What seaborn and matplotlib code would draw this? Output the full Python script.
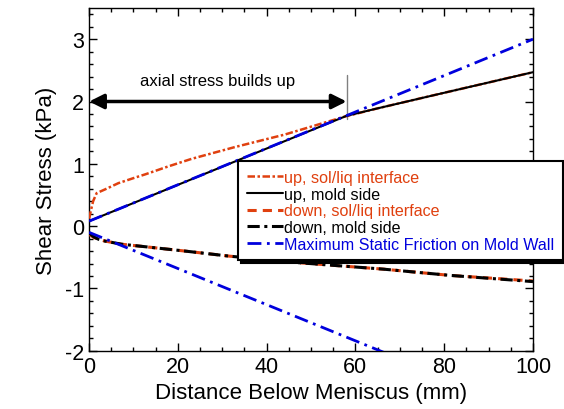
import matplotlib
matplotlib.use("Agg")
import matplotlib.pyplot as plt
import seaborn as sns
import numpy as np
from matplotlib.ticker import MultipleLocator

sns.set_theme(style="ticks")
plt.rcParams['font.family'] = ['Liberation Sans', 'DejaVu Sans']
plt.rcParams['axes.unicode_minus'] = False
plt.rcParams['text.color'] = 'black'
plt.rcParams['axes.labelcolor'] = 'black'
plt.rcParams['xtick.color'] = 'black'
plt.rcParams['ytick.color'] = 'black'

# ---- data ----
up_sol_x = [0, 0.4, 0.9, 1.7, 3.6, 6.6, 10.4, 12.6, 17.9, 23.1, 32.9, 44.1, 51.6, 57.7, 65, 80, 100]
up_sol_y = [0.12, 0.25, 0.40, 0.53, 0.59, 0.69, 0.78, 0.83, 0.96, 1.08, 1.27, 1.47, 1.63, 1.76, 1.89, 2.14, 2.47]

up_mold_x = [0, 58, 65, 80, 100]
up_mold_y = [0.08, 1.77, 1.89, 2.14, 2.47]

down_sol_x = [0, 1, 2.1, 3.6, 7.3, 12.6, 21.6, 31.4, 46, 66.3, 81.3, 100]
down_sol_y = [-0.13, -0.18, -0.21, -0.24, -0.29, -0.33, -0.40, -0.48, -0.58, -0.69, -0.79, -0.88]

down_mold_x = [0, 1, 2.1, 3.6, 7.3, 12.6, 21.6, 31.4, 46, 66.3, 81.3, 100]
down_mold_y = [-0.11, -0.17, -0.21, -0.24, -0.29, -0.33, -0.40, -0.48, -0.58, -0.69, -0.79, -0.89]

static_x = [0, 100]
static_up_y = [0.08, 3.0]
static_down_y = [-0.10, -3.0]

labels = ["up, sol/liq interface", "up, mold side", "down, sol/liq interface",
          "down, mold side", "Maximum Static Friction on Mold Wall"]

orange = "#E0400F"
blue = "#0000DD"

fig = plt.figure(figsize=(5.64, 4.10), dpi=100)
ax = fig.add_axes([0.158, 0.142, 0.787, 0.836])

sns.lineplot(x=up_sol_x, y=up_sol_y, ax=ax, color=orange, lw=1.8,
             linestyle=(0, (3, 1, 1, 1)), label=labels[0], zorder=3)
sns.lineplot(x=up_mold_x, y=up_mold_y, ax=ax, color="black", lw=1.5,
             linestyle="-", label=labels[1], zorder=4)
sns.lineplot(x=down_sol_x, y=down_sol_y, ax=ax, color=orange, lw=2.2,
             linestyle=(0, (3, 2)), label=labels[2], zorder=3)
sns.lineplot(x=down_mold_x, y=down_mold_y, ax=ax, color="black", lw=2.2,
             linestyle=(0, (4, 1.5, 1, 1.5)), label=labels[3], zorder=4)
sns.lineplot(x=static_x, y=static_up_y, ax=ax, color=blue, lw=2,
             linestyle=(0, (5, 2, 1, 2)), label=labels[4], zorder=5)
sns.lineplot(x=static_x, y=static_down_y, ax=ax, color=blue, lw=2,
             linestyle=(0, (5, 2, 1, 2)), zorder=5)

ax.set_xlim(0, 100)
ax.set_ylim(-2, 3.5)
ax.xaxis.set_major_locator(MultipleLocator(20))
ax.xaxis.set_minor_locator(MultipleLocator(5))
ax.yaxis.set_major_locator(MultipleLocator(1))
ax.yaxis.set_minor_locator(MultipleLocator(0.2))
ax.tick_params(which='both', direction='in', top=True, right=True, labelsize=15.5,
               width=1, color='black', labelcolor='black')
ax.tick_params(which='major', length=6)
ax.tick_params(which='minor', length=3)
for s in ax.spines.values():
    s.set_linewidth(1)
    s.set_color('black')

ax.set_xlabel("Distance Below Meniscus (mm)", fontsize=16, labelpad=4, color='black')
ax.set_ylabel("Shear Stress (kPa)", fontsize=16, labelpad=6, color='black')

# annotation
ax.annotate('', xy=(0, 2.0), xytext=(58, 2.0),
            arrowprops=dict(arrowstyle='<|-|>', color='black', lw=2.5,
                            mutation_scale=22, shrinkA=0, shrinkB=0), zorder=6)
ax.text(29, 2.22, "axial stress builds up", ha='center', va='bottom', fontsize=12, color='black')
ax.plot([58, 58], [1.72, 2.42], color='gray', lw=1, zorder=2)

leg = ax.legend(loc='upper left', bbox_to_anchor=(0.336, 0.553), frameon=True,
                fancybox=False, shadow={'color': 'black', 'alpha': 1},
                edgecolor='black', fontsize=11.6,
                handlelength=2.2, handletextpad=0.1, labelspacing=0.1,
                borderpad=0.55, borderaxespad=0)
leg.get_frame().set_linewidth(1.5)
leg.get_frame().set_alpha(1)
leg.set_zorder(10)
text_colors = [orange, "black", orange, "black", blue]
for t, c in zip(leg.get_texts(), text_colors):
    t.set_color(c)

fig.savefig("out.png", dpi=100)
